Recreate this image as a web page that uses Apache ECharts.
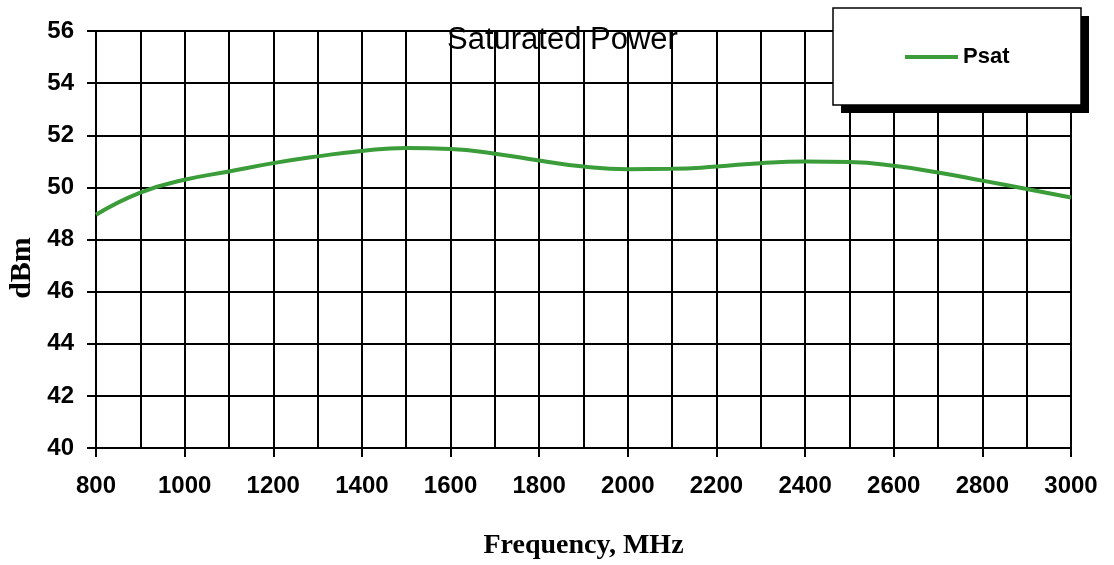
<!DOCTYPE html>
<html>
<head>
<meta charset="utf-8">
<title>Saturated Power</title>
<script src="https://cdn.jsdelivr.net/npm/echarts@6/dist/echarts.min.js"></script>
<style>
    html, body { margin: 0; padding: 0; background: #fff; }
    #chart { width: 1114px; height: 565px; }
</style>
</head>
<body>
<div id="chart"></div>
<script>
    // frequency points (MHz) and saturated power (dBm)
    const freqs = [800, 900, 1000, 1100, 1200, 1300, 1400, 1500, 1600, 1700, 1800, 1900,
                   2000, 2100, 2200, 2300, 2400, 2500, 2600, 2700, 2800, 2900, 3000];
    const psat = [48.95, 49.8, 50.29, 50.61, 50.93, 51.19, 51.4, 51.51, 51.47, 51.29, 51.03, 50.8,
                  50.7, 50.71, 50.8, 50.93, 50.99, 50.97, 50.83, 50.57, 50.26, 49.94, 49.61];
    const seriesName = 'Psat';

    const green = '#3a9d3a';
    const myChart = echarts.init(document.getElementById('chart'));

    const option = {
        animation: false,
        title: {
            text: 'Saturated Power',
            left: 447,
            top: 25,
            padding: 0,
            textStyle: {
                fontFamily: 'Liberation Sans, Arial, sans-serif',
                fontWeight: 'normal',
                fontSize: 31,
                color: '#000'
            }
        },
        legend: {
            data: [{ name: seriesName, icon: 'rect' }],
            left: 905,
            top: 46,
            padding: 0,
            z: 10,
            itemWidth: 53,
            itemHeight: 4,
            itemGap: 6,
            textStyle: {
                fontFamily: 'Liberation Sans, Arial, sans-serif',
                fontWeight: 'bold',
                fontSize: 22,
                color: '#000'
            }
        },
        grid: {
            left: 96,
            right: 43,
            top: 31,
            bottom: 116,
            show: true,
            borderColor: '#000',
            borderWidth: 2
        },
        //横坐标
        xAxis: {
            type: 'value',
            min: 800,
            max: 3000,
            interval: 200,
            name: 'Frequency, MHz',
            nameLocation: 'middle',
            nameGap: 84,
            nameTextStyle: {
                fontFamily: 'Liberation Serif, Times New Roman, serif',
                fontWeight: 'bold',
                fontSize: 28,
                color: '#000'
            },
            axisLine: { show: true, lineStyle: { color: '#000', width: 2 } },
            axisTick: { show: true, length: 9, lineStyle: { color: '#000', width: 2 } },
            axisLabel: {
                margin: 26,
                formatter: v => String(v),
                fontFamily: 'Liberation Sans, Arial, sans-serif',
                fontWeight: 'bold',
                fontSize: 24,
                color: '#000'
            },
            splitLine: { show: true, lineStyle: { color: '#000', width: 2 } },
            minorTick: { show: false, splitNumber: 2 },
            minorSplitLine: { show: true, lineStyle: { color: '#000', width: 2 } }
        },
        //纵坐标
        yAxis: {
            type: 'value',
            min: 40,
            max: 56,
            interval: 2,
            axisLine: { show: true, lineStyle: { color: '#000', width: 2 } },
            axisTick: { show: true, length: 9, lineStyle: { color: '#000', width: 2 } },
            axisLabel: {
                margin: 22,
                fontFamily: 'Liberation Sans, Arial, sans-serif',
                fontWeight: 'bold',
                fontSize: 24,
                color: '#000'
            },
            splitLine: { show: true, lineStyle: { color: '#000', width: 2 } }
        },
        graphic: [
            // legend frame: drop shadow then white box
            {
                type: 'rect',
                z: 3,
                shape: { x: 841, y: 16, width: 248, height: 97 },
                style: { fill: '#000' }
            },
            {
                type: 'rect',
                z: 3,
                shape: { x: 833, y: 8, width: 248, height: 97 },
                style: { fill: '#fff', stroke: '#000', lineWidth: 1.5 }
            },
            {
                type: 'text',
                x: 22,
                y: 268,
                rotation: Math.PI / 2,
                style: {
                    text: 'dBm',
                    fontFamily: 'Liberation Serif, Times New Roman, serif',
                    fontWeight: 'bold',
                    fontSize: 30,
                    fill: '#000',
                    align: 'center',
                    verticalAlign: 'middle'
                }
            }
        ],
        series: [{
            name: seriesName,
            type: 'line',
            data: freqs.map((f, i) => [f, psat[i]]),
            smooth: true,
            symbol: 'none',
            color: green,
            lineStyle: { color: green, width: 4 }
        }]
    };
    myChart.setOption(option);
</script>
</body>
</html>
